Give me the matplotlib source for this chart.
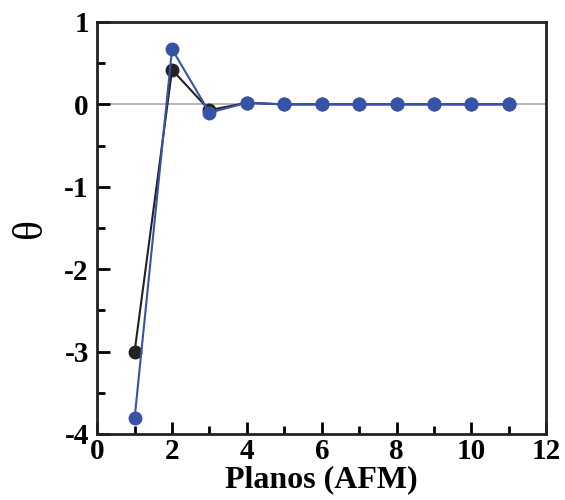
import numpy as np
import matplotlib.pyplot as plt
from matplotlib.ticker import MultipleLocator

planos = [1, 2, 3, 4, 5, 6, 7, 8, 9, 10, 11]
theta_black = [-3.0, 0.42, -0.07, 0.02, 0.0, 0.0, 0.0, 0.0, 0.0, 0.0, 0.0]
theta_blue = [-3.81, 0.67, -0.10, 0.02, 0.0, 0.0, 0.0, 0.0, 0.0, 0.0, 0.0]

plt.rcParams['font.family'] = ['Liberation Serif', 'DejaVu Serif']
plt.rcParams['axes.unicode_minus'] = False

fig = plt.figure(figsize=(5.65, 5.0), dpi=100)
ax = fig.add_axes([0.172, 0.132, 0.795, 0.824])

ax.axhline(0, color='#aaaaaa', lw=1.2, zorder=1)
ax.plot(planos, theta_black, '-o', color='#222222', lw=1.5, ms=9, zorder=2)
ax.plot(planos, theta_blue, '-o', color='#3653a8', lw=1.5, ms=9, zorder=3)

ax.set_xlim(0, 12)
ax.set_ylim(-4, 1)
ax.xaxis.set_major_locator(MultipleLocator(2))
ax.xaxis.set_minor_locator(MultipleLocator(1))
ax.yaxis.set_major_locator(MultipleLocator(1))
ax.yaxis.set_minor_locator(MultipleLocator(0.5))
ax.tick_params(which='both', direction='in', width=2, labelsize=21, pad=6)
ax.tick_params(axis='x', pad=3)
ax.tick_params(which='major', length=9)
ax.tick_params(which='minor', length=6)
for lab in ax.get_xticklabels() + ax.get_yticklabels():
    lab.set_fontweight('bold')
for sp in ax.spines.values():
    sp.set_linewidth(2)
    sp.set_color('#222222')

ax.set_xlabel('Planos (AFM)', fontsize=23, fontweight='bold', labelpad=0)
ax.set_ylabel('θ', fontsize=30, labelpad=10)

fig.savefig('out.png')
